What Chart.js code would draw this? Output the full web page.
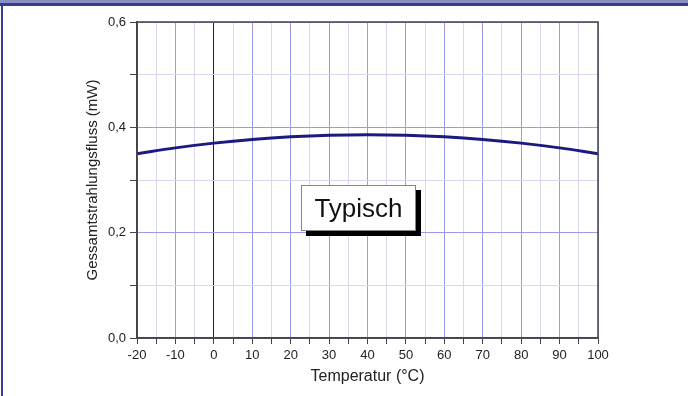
<!DOCTYPE html>
<html>
<head>
<meta charset="utf-8">
<script src="https://cdn.jsdelivr.net/npm/chart.js@4"></script>
<style>
  html, body { margin: 0; padding: 0; background: #fff; }
  #wrap { position: relative; width: 688px; height: 396px; overflow: hidden; }
  #topbar { position: absolute; left: 0; top: 0; width: 688px; height: 3px; background: #8b90c2; }
  #topline { position: absolute; left: 0; top: 3px; width: 688px; height: 3px; background: #34408c; }
  #leftline { position: absolute; left: 1px; top: 6px; width: 2px; height: 390px; background: #34408c; }
  #typisch {
    position: absolute; left: 301px; top: 185px; width: 113px; height: 44px;
    border: 1px solid #888; background: #fff;
    box-shadow: 5px 5px 0 #000;
    font-family: "Liberation Sans", Arial, sans-serif; font-size: 26px; color: #111;
    line-height: 44px; text-align: center;
  }
</style>
</head>
<body>
<div id="wrap">
  <canvas id="chart" width="688" height="396"></canvas>
  <div id="topbar"></div>
  <div id="topline"></div>
  <div id="leftline"></div>
  <div id="typisch">Typisch</div>
</div>
<script>
// --- Data ---
const temperatures = [-20, -10, 0, 10, 20, 30, 40, 50, 60, 70, 80, 90, 100];
const flux = [0.350, 0.361, 0.370, 0.377, 0.382, 0.385, 0.386, 0.385, 0.382, 0.377, 0.370, 0.361, 0.350];
const xTickLabels = ['-20', '-10', '0', '10', '20', '30', '40', '50', '60', '70', '80', '90', '100'];
const yTickLabels = ['0,0', '0,2', '0,4', '0,6'];

const points = temperatures.map((t, i) => ({ x: t, y: flux[i] }));

// --- Plot frame plugin ---
const frame = {
  id: 'frame',
  afterDraw(chart) {
    const { ctx, chartArea: a } = chart;
    ctx.save();
    ctx.strokeStyle = '#444';
    ctx.lineWidth = 1.5;
    ctx.strokeRect(a.left, a.top, a.right - a.left, a.bottom - a.top);
    ctx.restore();
  }
};

const isMajorX = v => Math.abs(Math.round(v) % 10) === 0;

const ctx = document.getElementById('chart').getContext('2d');
new Chart(ctx, {
  type: 'line',
  data: {
    datasets: [{
      data: points,
      borderColor: '#1a1a80',
      borderWidth: 3,
      pointRadius: 0,
      tension: 0.4,
      fill: false
    }]
  },
  options: {
    responsive: false,
    animation: false,
    layout: { padding: { left: 80, right: 90, top: 22, bottom: 6 } },
    plugins: { legend: { display: false }, tooltip: { enabled: false } },
    scales: {
      x: {
        type: 'linear',
        min: -20, max: 100,
        afterFit: s => { s.height = 52; },
        ticks: {
          stepSize: 5,
          autoSkip: false,
          maxRotation: 0,
          padding: 4,
          color: '#222',
          font: { family: 'Liberation Sans', size: 13 },
          callback: v => (isMajorX(v) ? xTickLabels[(Math.round(v) + 20) / 10] : '')
        },
        grid: {
          color: c => {
            const v = c.tick ? c.tick.value : 0;
            if (v === 0) return '#222';
            return isMajorX(v) ? '#9a9ae8' : '#d8d8f4';
          },
          tickColor: '#444',
          tickLength: 6
        },
        border: { color: '#444', width: 1.5 },
        title: {
          display: true,
          text: 'Temperatur (°C)',
          color: '#222',
          font: { family: 'Liberation Sans', size: 16 }
        }
      },
      y: {
        min: 0, max: 0.6,
        afterFit: s => { s.width = 57; },
        ticks: {
          stepSize: 0.1,
          padding: 4,
          color: '#222',
          font: { family: 'Liberation Sans', size: 13 },
          callback: v => {
            const k = Math.round(v * 10);
            return k % 2 === 0 ? yTickLabels[k / 2] : '';
          }
        },
        grid: {
          color: c => {
            const k = c.tick ? Math.round(c.tick.value * 10) : 0;
            return k % 2 === 0 ? '#9a9ae8' : '#d8d8f4';
          },
          tickColor: '#444',
          tickLength: 7
        },
        border: { color: '#444', width: 1.5 },
        title: {
          display: true,
          text: 'Gessamtstrahlungsfluss (mW)',
          color: '#222',
          font: { family: 'Liberation Sans', size: 15 }
        }
      }
    }
  },
  plugins: [frame]
});
</script>
</body>
</html>
